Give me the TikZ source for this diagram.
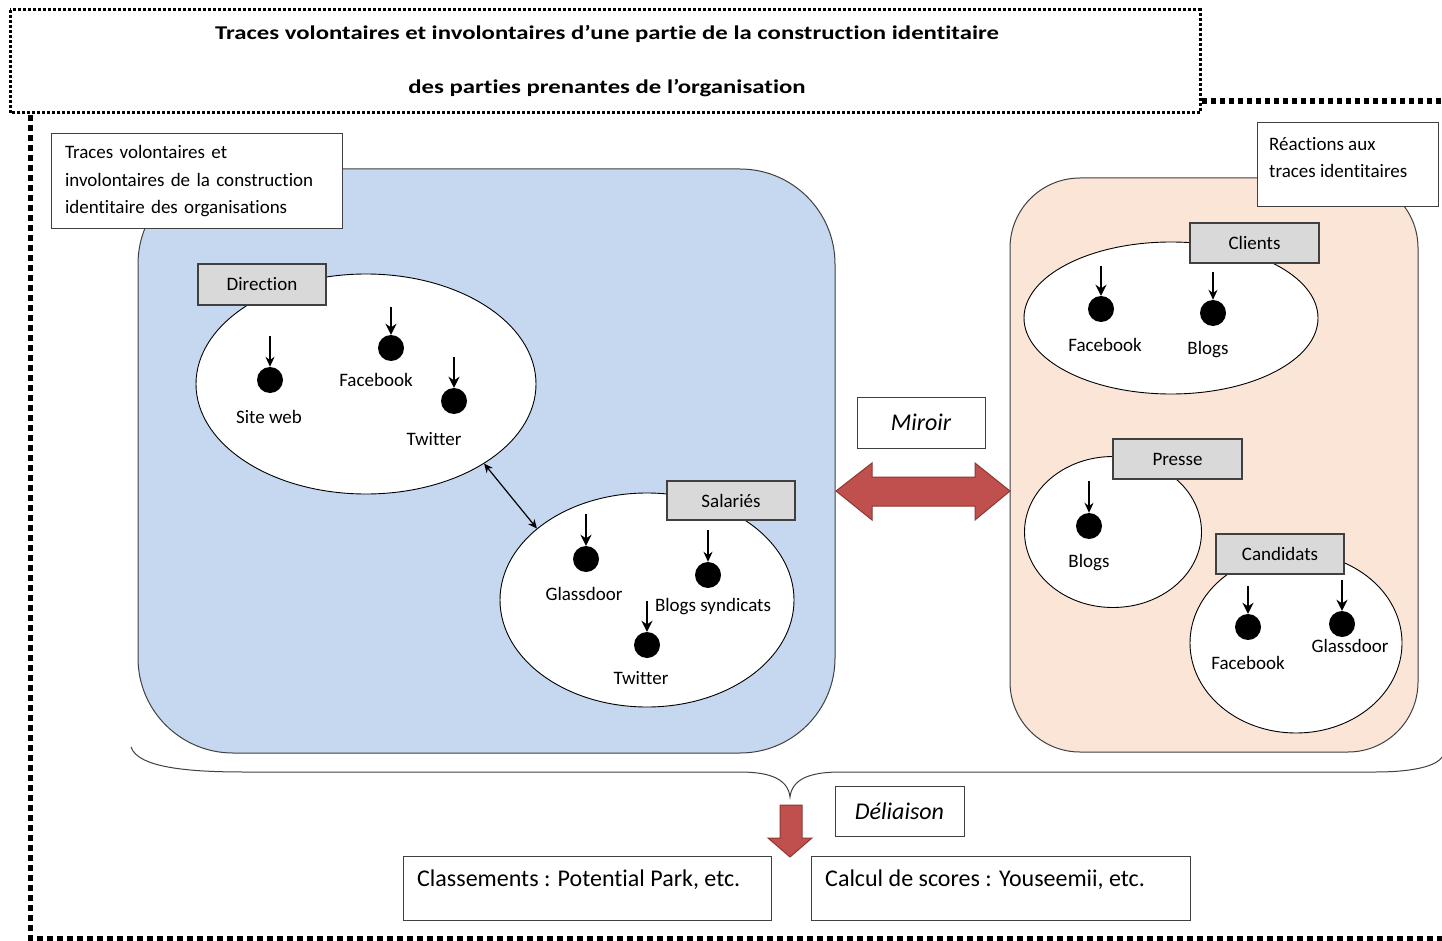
\documentclass[tikz,border=0pt]{standalone}
\usepackage{fontspec}
\setmainfont{Carlito}[Ligatures=NoCommon]
\usetikzlibrary{shapes.geometric,arrows.meta,calc}
\definecolor{bluefill}{RGB}{197,216,240}
\definecolor{peach}{RGB}{251,229,214}
\definecolor{graybox}{RGB}{217,217,217}
\definecolor{redarr}{RGB}{192,80,77}
\definecolor{redline}{RGB}{140,56,54}
\definecolor{edge}{RGB}{64,64,64}
\begin{document}
\begin{tikzpicture}[x=1pt,y=-1pt,
  lbl/.style={font=\fontsize{19}{23}\selectfont, inner sep=1pt},
  wlbl/.style={lbl, fill=white},
  panel/.style={draw=edge, line width=1pt, inner sep=0pt},
  oval/.style={ellipse, draw=black, fill=white, line width=0.9pt, inner sep=0pt},
  tag/.style={draw=edge, fill=graybox, line width=1.1pt, minimum width=128pt, minimum height=40pt, font=\fontsize{19}{23}\selectfont, inner sep=0pt},
  dot/.style={circle, fill=black, minimum size=26pt, inner sep=0pt},
  thkarr/.style={line width=2.8pt, -{Stealth[length=11pt,width=11pt]}},
  thnarr/.style={line width=1.3pt, -{Stealth[length=10pt,width=9pt]}},
  whitebox/.style={draw=edge, fill=white, line width=1pt, inner sep=0pt},
  titledots/.style={line width=3pt, dash pattern=on 3pt off 2pt},
  framedash/.style={line width=5pt, dash pattern=on 6pt off 4pt},
  bigtxt/.style={font=\fontsize{24}{28}\selectfont, inner sep=0pt},
  ttl/.style={font=\fontsize{19.5}{22}\selectfont\bfseries, inner sep=0pt},
  redshape/.style={fill=redarr, draw=redline, line width=1pt, line join=miter}
]
\useasboundingbox (0,0) rectangle (1442,941);
\fill[white] (0,0) rectangle (1442,941);

% frames
\draw[titledots] (10,10) rectangle (1200,113);
\draw[framedash] (30,115) -- (30,938) -- (1442,938);
\draw[line width=6pt, dash pattern=on 5pt off 4pt] (1202,101) -- (1442,101);
\node[ttl] (t1) at (607,34) {\scalebox{1.27}[1]{Traces volontaires et involontaires d’une partie de la construction identitaire}};
\node[ttl] (t2) at (607,88) {\scalebox{1.27}[1]{des parties prenantes de l’organisation}};

% panels
\node[panel, fill=bluefill, rounded corners=95pt, minimum width=697pt, minimum height=584pt] (lp) at (486.5,461) {};
\node[panel, fill=peach, rounded corners=70pt, minimum width=408pt, minimum height=574pt] (rp) at (1214,465) {};

% panel labels
\node[whitebox, minimum width=291pt, minimum height=95pt, text width=263pt, align=left, font=\fontsize{19}{27.5}\selectfont] (lt) at (196.5,181.5) {Traces volontaires et\\involontaires de la construction\\identitaire des organisations};
\node[whitebox, minimum width=181pt, minimum height=84pt] (rb) at (1347.5,165) {};
\node[lbl, align=left, font=\fontsize{19}{27}\selectfont, anchor=north west] (rt) at (1268,136) {Réactions aux\\traces identitaires};

% ellipses
\node[oval, minimum width=340pt, minimum height=220pt] (dir) at (366,384) {};
\node[oval, minimum width=294pt, minimum height=214pt] (sal) at (647,600) {};
\node[oval, minimum width=294pt, minimum height=152pt] (cli) at (1171,318) {};
\node[oval, minimum width=177pt, minimum height=151pt] (pre) at (1113,532) {};
\node[oval, minimum width=212pt, minimum height=180pt] (can) at (1296,643) {};

\draw[line width=1.2pt, {Stealth[length=9pt,width=8pt]}-{Stealth[length=9pt,width=8pt]}] (dir.-34) -- (sal.147);

% tags
\node[tag, minimum height=41pt] (tdir) at (262,284.5) {Direction};
\node[tag, minimum height=39pt] (tsal) at (731,500.5) {Salariés};
\node[tag, minimum width=129pt] (tcli) at (1254.5,243) {Clients};
\node[tag, minimum width=129pt] (tpre) at (1177.5,459) {Presse};
\node[tag] (tcan) at (1280,554) {Candidats};

% Direction content
\node[dot] (d1) at (270,380) {};
\draw[thnarr] ([yshift=44pt]d1.center) -- (d1);
\node[lbl] (d1l) at (269,417) {Site web};
\node[dot] (d2) at (391,348) {};
\draw[thkarr] ([yshift=41pt]d2.center) -- (d2);
\node[lbl] (d2l) at (376,380) {Facebook};
\node[dot] (d3) at (454,401) {};
\draw[thkarr] ([yshift=44pt]d3.center) -- (d3);
\node[lbl] (d3l) at (434,439) {Twitter};

% Salaries content
\node[dot] (s1) at (586,559) {};
\draw[thkarr] ([yshift=45pt]s1.center) -- (s1);
\node[lbl] (s1l) at (584,594) {Glassdoor};
\node[dot] (s2) at (708,575) {};
\draw[thnarr] ([yshift=45pt]s2.center) -- (s2);
\node[wlbl] (s2l) at (713,607) {Blogs syndicats};
\node[dot] (s3) at (647,645) {};
\draw[thkarr] ([yshift=44pt]s3.center) -- (s3);
\node[lbl] (s3l) at (641,678) {Twitter};

% Clients content
\node[dot] (c1) at (1101,309) {};
\draw[thkarr] ([yshift=43pt]c1.center) -- (c1);
\node[lbl] (c1l) at (1105,345) {Facebook};
\node[dot] (c2) at (1213,313) {};
\draw[thnarr] ([yshift=41pt]c2.center) -- (c2);
\node[lbl] (c2l) at (1208,350) {Blogs};

% Presse content
\node[dot] (p1) at (1089,526) {};
\draw[thnarr] ([yshift=45pt]p1.center) -- (p1);
\node[lbl] (p1l) at (1089,563) {Blogs};

% Candidats content
\node[dot] (k1) at (1248,627) {};
\draw[thkarr] ([yshift=41pt]k1.center) -- (k1);
\node[wlbl] (k1l) at (1248,663) {Facebook};
\node[dot] (k2) at (1342,624) {};
\draw[thkarr] ([yshift=44pt]k2.center) -- (k2);
\node[wlbl, inner xsep=4pt] (k2l) at (1350,646) {Glassdoor};

% Miroir
\node[whitebox, minimum width=128pt, minimum height=51pt, font=\fontsize{24}{28}\selectfont\itshape] (mir) at (921,422.5) {Miroir};
\draw[redshape] (836,491) -- (872,463) -- (872,477) -- (975,477) -- (975,463) -- (1010,491) -- (975,520) -- (975,506) -- (872,506) -- (872,520) -- cycle;

% brace
\draw[edge, line width=1pt] (131,747) .. controls (138,768) and (190,772) .. (245,772) -- (740,772) .. controls (772,772) and (788,780) .. (790,797) .. controls (792,780) and (808,772) .. (840,772) -- (1375,772) .. controls (1420,772) and (1438,764) .. (1442,757);

% Deliaison
\node[whitebox, minimum width=129pt, minimum height=50pt, font=\fontsize{24}{28}\selectfont\itshape] (del) at (899.5,811) {Déliaison};
\draw[redshape] (780,805) -- (802,805) -- (802,838) -- (812,838) -- (790,857) -- (768,838) -- (780,838) -- cycle;

% bottom boxes
\node[whitebox, minimum width=368pt, minimum height=64pt] (clb) at (587,888) {};
\node[bigtxt, anchor=west] (clt) at (417,880) {Classements : Potential Park, etc.};
\node[whitebox, minimum width=379pt, minimum height=64pt] (cab) at (1000.5,888) {};
\node[bigtxt, anchor=west] (cat) at (825,880) {Calcul de scores : Youseemii, etc.};
\end{tikzpicture}
\end{document}
